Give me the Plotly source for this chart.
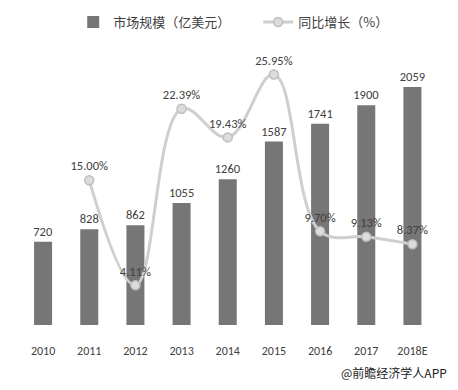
import plotly.graph_objects as go

categories = ["2010", "2011", "2012", "2013", "2014", "2015", "2016", "2017", "2018E"]
market_size = [720, 828, 862, 1055, 1260, 1587, 1741, 1900, 2059]
growth_years = ["2011", "2012", "2013", "2014", "2015", "2016", "2017", "2018E"]
growth_rate = [15.00, 4.11, 22.39, 19.43, 25.95, 9.70, 9.13, 8.37]

FONT = "Calibri, Carlito, 'Noto Sans CJK SC', 'Open Sans', sans-serif"

fig = go.Figure()
fig.add_trace(go.Bar(
    x=categories, y=market_size, name="市场规模（亿美元）",
    marker=dict(color="#767676", line=dict(width=0)),
    text=[str(v) for v in market_size], textposition="outside",
    constraintext="none",
    textfont=dict(size=12.5, color="#404040", family=FONT),
    cliponaxis=False,
))
fig.add_trace(go.Scatter(
    x=growth_years, y=growth_rate, name="同比增长（%）", yaxis="y2",
    mode="lines+markers+text",
    line=dict(color="#cfcfcf", width=3, shape="spline", smoothing=1.1),
    marker=dict(size=9, color="#dcdcdc", line=dict(color="#bdbdbd", width=1.5)),
    text=[f"{v:.2f}%" for v in growth_rate], textposition="top center",
    textfont=dict(size=12.5, color="#404040", family=FONT),
    cliponaxis=False,
))

fig.update_layout(
    width=450, height=382,
    margin=dict(l=12, r=19, t=37, b=65, autoexpand=False),
    paper_bgcolor="white", plot_bgcolor="white",
    bargap=0.61,
    font=dict(family=FONT, color="#404040"),
    showlegend=True,
    legend=dict(orientation="h", x=0.127, xanchor="left", y=1.082, yanchor="middle",
                font=dict(size=13, family="'Noto Sans CJK SC', sans-serif", color="#404040"),
                entrywidth=140, itemwidth=30, bgcolor="rgba(0,0,0,0)"),
    xaxis=dict(showgrid=False, showline=False, zeroline=False, ticks="",
               ticklabelstandoff=17,
               tickfont=dict(size=12, color="#404040", family=FONT)),
    yaxis=dict(range=[0, 2422], visible=False, showgrid=False),
    yaxis2=dict(range=[0, 29.0], overlaying="y", visible=False, showgrid=False),
    annotations=[dict(text="@前瞻经济学人APP", xref="paper", yref="paper",
                      x=1.025, y=-0.171, xanchor="right", yanchor="middle", showarrow=False,
                      font=dict(size=12, color="#222222", family="'Noto Sans CJK SC', sans-serif"))],
)
fig.write_html("out.html")
